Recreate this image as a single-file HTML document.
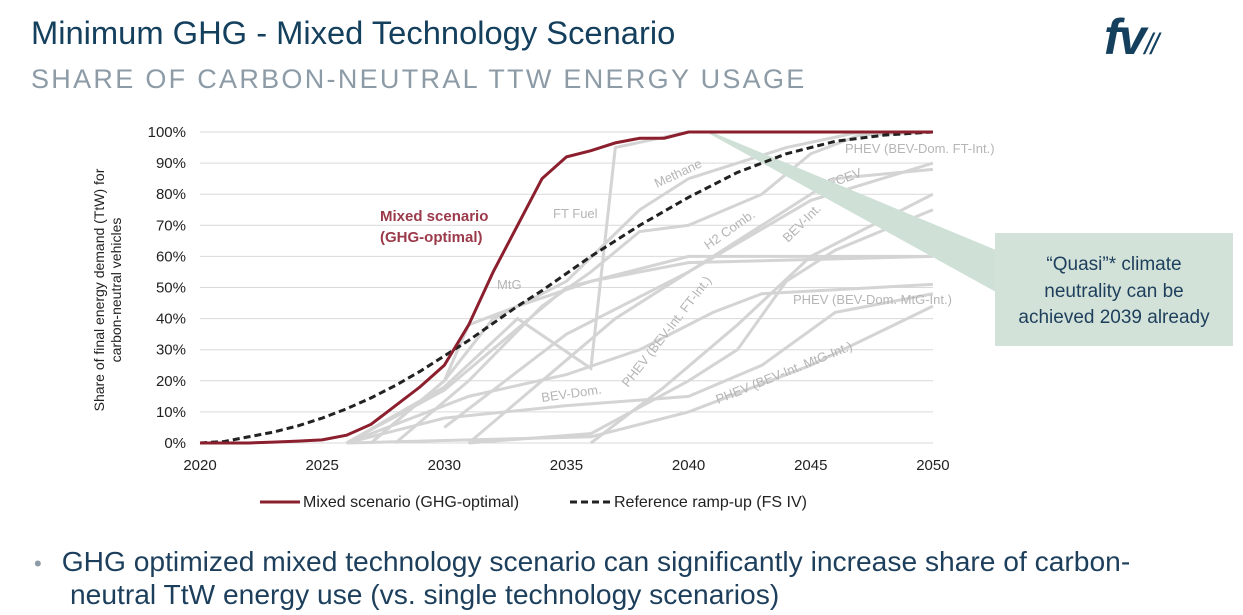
<!DOCTYPE html>
<html><head><meta charset="utf-8"><style>
body{margin:0;width:1243px;height:615px;background:#fff;font-family:"Liberation Sans",sans-serif;overflow:hidden;position:relative}
.t{position:absolute;white-space:nowrap}
</style></head><body>
<div class="t" style="left:31px;top:14px;font-size:32.7px;color:#14405e">Minimum GHG - Mixed Technology Scenario</div>
<div class="t" style="left:31px;top:64px;font-size:27px;color:#8c9ba6;letter-spacing:2.3px">SHARE OF CARBON-NEUTRAL TTW ENERGY USAGE</div>
<div class="t" style="left:1104px;top:8px;font-size:50px;font-style:italic;font-weight:bold;color:#14405e;letter-spacing:-2px">fv<span style="font-size:30px;font-weight:normal">//</span></div>
<svg id="chart" width="1243" height="615" style="position:absolute;left:0;top:0"></svg>
<div class="t" style="left:34px;top:546px;font-size:28.2px;color:#1d3f5c;line-height:31px"><span style="color:#8c9ba6;margin-right:20px;font-size:22px">•</span>GHG optimized mixed technology scenario can significantly increase share of carbon-<br><span style="margin-left:36px">neutral TtW energy use (vs. single technology scenarios)</span></div>
<script>
const years=[2020,2021,2022,2023,2024,2025,2026,2027,2028,2029,2030,2031,2032,2033,2034,2035,2036,2037,2038,2039,2040,2041,2042,2043,2044,2045,2046,2047,2048,2049,2050];
const mixed=[0,0,0,0.3,0.6,1,2.5,6,12,18,25,38,55,70,85,92,94,96.5,98,98,100,100,100,100,100,100,100,100,100,100,100];
const reference=[0,0.5,2,3.5,5.5,8,11,14.5,18.5,23,28,33,38.5,44,49,54.5,60,65,70,74.5,79,83,87,90,93,95,97,98,99,99.5,100];
const greyYears=[
[2026,2030,2033,2036,2037,2040,2050],
[2027,2030,2032,2035,2038,2040,2044,2047,2050],
[2027,2030,2031,2033,2036,2040,2050],
[2028,2031,2034,2036,2038,2040,2043,2045,2047,2050],
[2030,2035,2040,2045,2050],
[2031,2034,2037,2040,2043,2046,2050],
[2026,2030,2035,2040,2050],
[2026,2031,2035,2038,2041,2043,2050],
[2026,2030,2035,2040,2043,2046,2050],
[2031,2036,2040,2042,2044,2046,2050],
[2026,2036,2040,2045,2050],
[2036,2039,2042,2045,2050]];
const greyValues=[
[0,18,40,24,95,100,100],
[0,20,40,52,75,85,95,100,100],
[0,20,38,44,52,58,60],
[0,20,44,55,68,70,80,93,99,100],
[5,35,55,78,90],
[0,20,40,55,70,85,88],
[0,17,50,60,60],
[0,15,22,30,42,48,51],
[0,8,12,15,25,42,48],
[0,3,20,30,52,62,75],
[0,2,10,25,44],
[0,18,38,60,80]];
const yTicks=[0,10,20,30,40,50,60,70,80,90,100];
const xTicks=[2020,2025,2030,2035,2040,2045,2050];
const X=y=>200+(y-2020)*24.43, Y=v=>443-v*3.11;
const svg=document.getElementById('chart');
const NS='http://www.w3.org/2000/svg';
function mk(tag,at,txt){const e=document.createElementNS(NS,tag);for(const k in at)e.setAttribute(k,at[k]);if(txt!=null)e.textContent=txt;svg.appendChild(e);return e;}
yTicks.forEach(v=>{
 const g=mk('line',{x1:200,x2:933,y1:Y(v),y2:Y(v),stroke:'#d9d9d9','stroke-width':1});
 
 
 const t=mk('text',{x:186,y:Y(v)+5,'text-anchor':'end','font-size':15,fill:'#222'},v+'%');
 
 
});
xTicks.forEach(v=>{
 const t=mk('text',{x:X(v),y:470,'text-anchor':'middle','font-size':15,fill:'#222'},v);
 
 
});
greyValues.forEach((vals,i)=>{
 const p=mk('polyline',{points:vals.map((v,j)=>X(greyYears[i][j])+','+Y(v)).join(' '),fill:'none',stroke:'#d4d4d4','stroke-width':3});
 
 
});
const labels=[["FT Fuel",553,218,0],["Methane",657,188,-25],["MtG",497,289,0],["H2 Comb.",708,250,-35],["FCEV",830,188,-20],["BEV-Int.",788,243,-45],["PHEV (BEV-Dom. FT-Int.)",845,153,0],["PHEV (BEV-Dom. MtG-Int.)",793,304,0],["BEV-Dom.",542,402,-8],["PHEV (BEV-Int. FT-Int.)",628,388,-52],["PHEV (BEV-Int. MtG-Int.)",718,404,-22]];
labels.forEach(l=>{
 const t=mk('text',{x:l[1],y:l[2],'font-size':13,fill:'#b5b5b5',transform:`rotate(${l[3]} ${l[1]} ${l[2]})`},l[0]);
 
 
});
const callArrow=mk('polygon',{points:'708,133 714,133 996,250 996,292',fill:'#cfe0d6'});


const ref=mk('polyline',{points:reference.map((v,i)=>X(years[i])+','+Y(v)).join(' '),fill:'none',stroke:'#222','stroke-width':3,'stroke-dasharray':'7,4'});


const mx=mk('polyline',{points:mixed.map((v,i)=>X(years[i])+','+Y(v)).join(' '),fill:'none',stroke:'#8b1f2e','stroke-width':3});


const box=mk('rect',{x:995,y:233,width:238,height:113,fill:'#d3e2d9'});


[["“Quasi”* climate",270],["neutrality can be",297],["achieved 2039 already",323]].forEach(a=>{
 const t=mk('text',{x:1114,y:a[1],'text-anchor':'middle','font-size':19,fill:'#1d3f5c'},a[0]);
 
 
});
[["Mixed scenario",221],["(GHG-optimal)",242]].forEach(a=>{
 const t=mk('text',{x:380,y:a[1],'font-size':15,'font-weight':'bold',fill:'#9b3a4a'},a[0]);
 
 
});
const yt=mk('text',{x:0,y:0,'font-size':14,fill:'#222','text-anchor':'middle',transform:'translate(104,290) rotate(-90)'},'Share of final energy demand (TtW) for');


const yt2=mk('text',{x:0,y:0,'font-size':14,fill:'#222','text-anchor':'middle',transform:'translate(121,290) rotate(-90)'},'carbon-neutral vehicles');


const l1=mk('line',{x1:260,x2:300,y1:502,y2:502,stroke:'#8b1f2e','stroke-width':3});


const lt1=mk('text',{x:303,y:507,'font-size':16,fill:'#222'},'Mixed scenario (GHG-optimal)');


const l2=mk('line',{x1:570,x2:610,y1:502,y2:502,stroke:'#222','stroke-width':3,'stroke-dasharray':'7,4'});


const lt2=mk('text',{x:614,y:507,'font-size':16,fill:'#222'},'Reference ramp-up (FS IV)');


</script>
</body></html>
